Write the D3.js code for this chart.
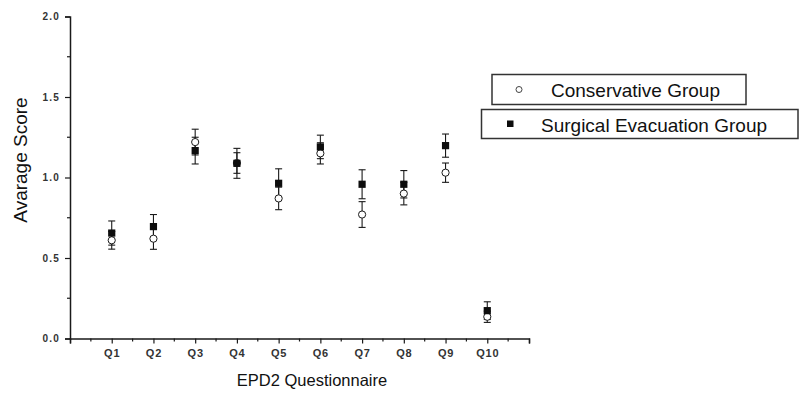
<!DOCTYPE html>
<html>
<head>
<meta charset="utf-8">
<script src="https://cdn.jsdelivr.net/npm/d3@7"></script>
<style>
  html, body { margin: 0; padding: 0; background: #fff; }
  svg { display: block; font-family: "Liberation Sans", Arial, sans-serif; }
</style>
</head>
<body>
<svg id="chart" width="804" height="395"></svg>
<script>
// Questionnaire items on the x axis
const categories = ["Q1", "Q2", "Q3", "Q4", "Q5", "Q6", "Q7", "Q8", "Q9", "Q10"];

// Average scores and error (± SE) per item
const conservativeMean = [0.61, 0.62, 1.22, 1.09, 0.87, 1.15, 0.77, 0.90, 1.03, 0.135];
const conservativeErr  = [0.055, 0.066, 0.08, 0.064, 0.07, 0.066, 0.08, 0.07, 0.06, 0.035];
const surgicalMean     = [0.655, 0.695, 1.167, 1.088, 0.964, 1.19, 0.958, 0.958, 1.198, 0.173];
const surgicalErr      = [0.075, 0.075, 0.083, 0.093, 0.09, 0.073, 0.09, 0.085, 0.072, 0.055];

const yTicks = [0.0, 0.5, 1.0, 1.5, 2.0];
const seriesNames = ["Conservative Group", "Surgical Evacuation Group"];

const svg = d3.select("#chart");
const ink = "#1a1a1a";

// Category positions 1..10 inside a 0..11 axis
const x = d3.scaleLinear().domain([0, 11]).range([70, 529]);
const y = d3.scaleLinear().domain([0, 2]).range([338.5, 16.5]);

// Y axis
const yAxis = d3.axisLeft(y).tickValues(yTicks).tickFormat(d3.format(".1f")).tickSize(5).tickPadding(5);
const gy = svg.append("g").attr("transform", `translate(${x(0)},0)`).call(yAxis);
gy.select(".domain").attr("stroke", ink).attr("stroke-width", 1.5);
gy.selectAll(".tick line").attr("stroke", ink).attr("stroke-width", 1.2);
gy.selectAll(".tick text").attr("font-size", 10).attr("font-weight", "bold")
  .attr("letter-spacing", 1.2).attr("fill", "#333");
// minor y ticks
const yMinor = d3.range(0.25, 2, 0.5);
svg.append("g").selectAll("line").data(yMinor).join("line")
  .attr("x1", x(0) - 3).attr("x2", x(0))
  .attr("y1", d => y(d)).attr("y2", d => y(d))
  .attr("stroke", ink).attr("stroke-width", 1.2);

// X axis
const xAxis = d3.axisBottom(x).tickValues(d3.range(0, 12)).tickSize(5)
  .tickFormat(d => (d >= 1 && d <= 10) ? categories[d - 1] : "").tickPadding(6);
const gx = svg.append("g").attr("transform", `translate(0,${y(0)})`).call(xAxis);
gx.select(".domain").attr("stroke", ink).attr("stroke-width", 1.5);
gx.selectAll(".tick line").attr("stroke", ink).attr("stroke-width", 1.2);
gx.selectAll(".tick text").attr("font-size", 11).attr("font-weight", "bold")
  .attr("letter-spacing", 0.8).attr("fill", "#333");
// minor x ticks
const xMinor = d3.range(0.5, 11, 1);
svg.append("g").selectAll("line").data(xMinor).join("line")
  .attr("x1", d => x(d)).attr("x2", d => x(d))
  .attr("y1", y(0)).attr("y2", y(0) + 3)
  .attr("stroke", ink).attr("stroke-width", 1.2);

// Axis titles
svg.append("text").attr("x", 312).attr("y", 386).attr("text-anchor", "middle")
  .attr("font-size", 16.5).attr("fill", "#111").text("EPD2 Questionnaire");
svg.append("text").attr("transform", "translate(27,160) rotate(-90)").attr("text-anchor", "middle")
  .attr("font-size", 19).attr("fill", "#111").text("Avarage Score");

// Error bars with caps
function errorBars(mean, err, cls) {
  const g = svg.append("g").attr("class", cls).attr("stroke", ink).attr("stroke-width", 1.1);
  const data = mean.map((m, i) => ({ i: i + 1, m, e: err[i] }));
  g.selectAll("line.v").data(data).join("line").attr("class", "v")
    .attr("x1", d => x(d.i)).attr("x2", d => x(d.i))
    .attr("y1", d => y(d.m - d.e)).attr("y2", d => y(d.m + d.e));
  [-1, 1].forEach(s => {
    g.selectAll(`line.c${s}`).data(data).join("line").attr("class", `c${s}`)
      .attr("x1", d => x(d.i) - 3.5).attr("x2", d => x(d.i) + 3.5)
      .attr("y1", d => y(d.m + s * d.e)).attr("y2", d => y(d.m + s * d.e));
  });
}
errorBars(conservativeMean, conservativeErr, "err-cons");
errorBars(surgicalMean, surgicalErr, "err-surg");

// Markers: open circles for the conservative group, filled squares for surgical evacuation
svg.append("g").selectAll("circle").data(conservativeMean).join("circle")
  .attr("cx", (d, i) => x(i + 1)).attr("cy", d => y(d)).attr("r", 3.6)
  .attr("fill", "#fff").attr("stroke", ink).attr("stroke-width", 1);
svg.append("g").selectAll("rect").data(surgicalMean).join("rect")
  .attr("x", (d, i) => x(i + 1) - 3.6).attr("y", d => y(d) - 3.6)
  .attr("width", 7.2).attr("height", 7.2).attr("fill", "#0d0d0d");

// Legend: one framed box per series
const legend = svg.append("g");
const box1 = legend.append("g");
box1.append("rect").attr("x", 492).attr("y", 74.5).attr("width", 254).attr("height", 30)
  .attr("fill", "#fff").attr("stroke", "#333").attr("stroke-width", 1.5);
box1.append("circle").attr("cx", 519).attr("cy", 89.5).attr("r", 3)
  .attr("fill", "#fff").attr("stroke", "#444").attr("stroke-width", 1);
box1.append("text").attr("x", 551).attr("y", 97).attr("font-size", 19).attr("fill", "#111").text(seriesNames[0]);

const box2 = legend.append("g");
box2.append("rect").attr("x", 481.5).attr("y", 109.5).attr("width", 316.5).attr("height", 29)
  .attr("fill", "#fff").attr("stroke", "#333").attr("stroke-width", 1.5);
box2.append("rect").attr("x", 507).attr("y", 120.5).attr("width", 6.5).attr("height", 6.5).attr("fill", "#0d0d0d");
box2.append("text").attr("x", 541).attr("y", 131.5).attr("font-size", 19).attr("fill", "#111").text(seriesNames[1]);
</script>
</body>
</html>
